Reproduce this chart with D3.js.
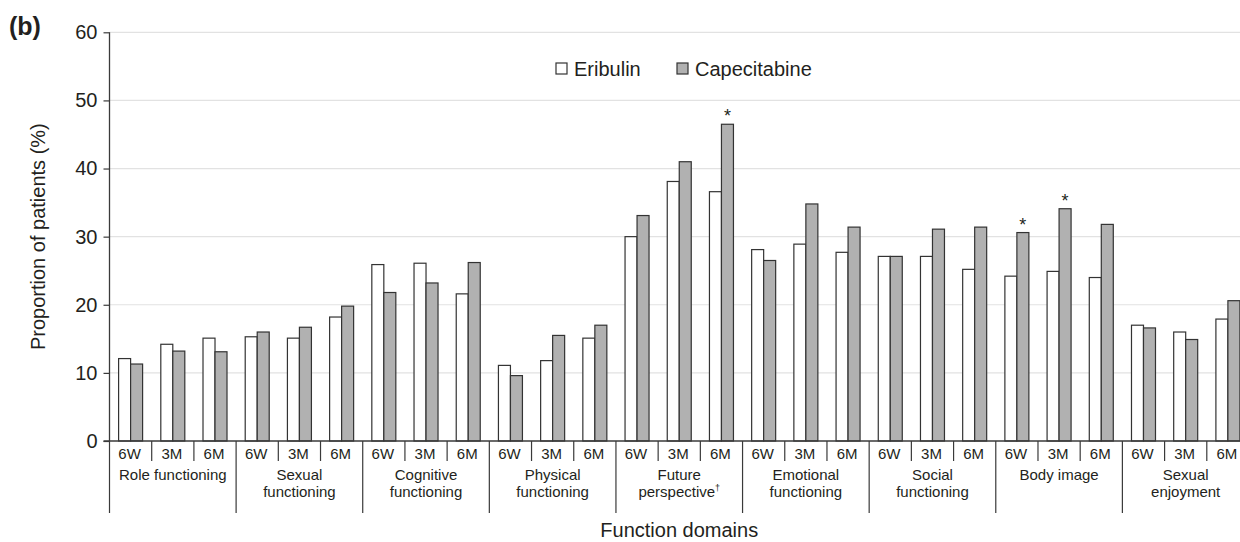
<!DOCTYPE html>
<html>
<head>
<meta charset="utf-8">
<script src="https://cdn.jsdelivr.net/npm/d3@7"></script>
<style>
  html, body { margin: 0; padding: 0; background: #fff; }
  svg { display: block; font-family: "Liberation Sans", Arial, sans-serif; }
</style>
</head>
<body>
<svg id="chart" width="1240" height="542"></svg>
<script>
// Function domains (label lines) and assessment time points
const domains = [
  ["Role functioning"],
  ["Sexual", "functioning"],
  ["Cognitive", "functioning"],
  ["Physical", "functioning"],
  ["Future", "perspective\u2020"],
  ["Emotional", "functioning"],
  ["Social", "functioning"],
  ["Body image"],
  ["Sexual", "enjoyment"]
];
const timepoints = ["6W", "3M", "6M"];
const seriesNames = ["Eribulin", "Capecitabine"];

// Proportion of patients (%), one value per domain x time point
const eribulin = [
  12.1, 14.2, 15.1,
  15.3, 15.1, 18.2,
  25.9, 26.1, 21.6,
  11.1, 11.8, 15.1,
  30.0, 38.1, 36.6,
  28.1, 28.9, 27.7,
  27.1, 27.1, 25.2,
  24.2, 24.9, 24.0,
  17.0, 16.0, 17.9
];
const capecitabine = [
  11.3, 13.2, 13.1,
  16.0, 16.7, 19.8,
  21.8, 23.2, 26.2,
   9.6, 15.5, 17.0,
  33.1, 41.0, 46.5,
  26.5, 34.8, 31.4,
  27.1, 31.1, 31.4,
  30.6, 34.1, 31.8,
  16.6, 14.9, 20.6
];
// capecitabine bars flagged as significant (*)
const significant = [14, 21, 22];
const yTicks = [0, 10, 20, 30, 40, 50, 60];

const svg = d3.select("#chart");
const ink = "#231f20";
const axisColor = "#3a3a3a";

const plotLeft = 109.5, plotRight = 1249, plotTop = 32.3, plotBottom = 441;

const keys = [];
domains.forEach((d, i) => timepoints.forEach(t => keys.push(i + "-" + t)));

const x = d3.scaleBand().domain(keys).range([plotLeft, plotRight]).padding(0);
const y = d3.scaleLinear().domain([0, 60]).range([plotBottom, plotTop]);
const pair = 24;
const xs = d3.scaleBand().domain(seriesNames).range([0, pair]);

// grid lines
svg.append("g")
  .selectAll("line")
  .data(yTicks.filter(v => v > 0))
  .join("line")
  .attr("x1", plotLeft).attr("x2", 1240)
  .attr("y1", d => y(d)).attr("y2", d => y(d))
  .attr("stroke", "#e2e2e2").attr("stroke-width", 1.2);

// y axis
const yAxis = svg.append("g")
  .attr("transform", `translate(${plotLeft},0)`)
  .call(d3.axisLeft(y).tickValues(yTicks).tickSize(6).tickPadding(6));
yAxis.select(".domain").attr("stroke", axisColor).attr("stroke-width", 1.3).attr("d", `M0,${plotTop}V${plotBottom}`);
yAxis.selectAll(".tick line").attr("stroke", axisColor).attr("stroke-width", 1.2);
yAxis.selectAll(".tick text")
  .attr("fill", ink).attr("font-size", 20)
  .attr("font-family", "Liberation Sans, Arial, sans-serif");

// bars
const rows = keys.map((k, i) => ({ key: k, i, values: [eribulin[i], capecitabine[i]] }));
const groups = svg.append("g").selectAll("g")
  .data(rows).join("g")
  .attr("transform", d => `translate(${x(d.key) + x.bandwidth() / 2 - pair / 2},0)`);
groups.selectAll("rect")
  .data(d => d.values.map((v, s) => ({ v, s: seriesNames[s] })))
  .join("rect")
  .attr("x", d => xs(d.s))
  .attr("width", xs.bandwidth())
  .attr("y", d => y(d.v))
  .attr("height", d => y(0) - y(d.v))
  .attr("fill", d => d.s === "Eribulin" ? "#ffffff" : "#b1b1b1")
  .attr("stroke", "#333").attr("stroke-width", 1.2);

// significance markers
svg.append("g").selectAll("text")
  .data(significant)
  .join("text")
  .attr("x", i => x(keys[i]) + x.bandwidth() / 2 - pair / 2 + xs("Capecitabine") + xs.bandwidth() / 2)
  .attr("y", i => y(capecitabine[i]) - 2)
  .attr("text-anchor", "middle")
  .attr("font-size", 18).attr("fill", ink)
  .text("*");

// category axis baseline
svg.append("line")
  .attr("x1", plotLeft - 6).attr("x2", 1240)
  .attr("y1", plotBottom).attr("y2", plotBottom)
  .attr("stroke", axisColor).attr("stroke-width", 1.3);

// separators: short between time points, long between domains
const sep = svg.append("g").attr("stroke", axisColor).attr("stroke-width", 1.2);
keys.forEach((k, i) => {
  const xx = x(k);
  const isGroup = i % 3 === 0;
  sep.append("line")
    .attr("x1", xx).attr("x2", xx)
    .attr("y1", plotBottom).attr("y2", isGroup ? 513 : 461);
});

// time point labels
svg.append("g").selectAll("text")
  .data(keys)
  .join("text")
  .attr("x", k => x(k) + x.bandwidth() / 2 - 1)
  .attr("y", 459)
  .attr("text-anchor", "middle")
  .attr("font-size", 15).attr("fill", ink)
  .text(k => k.split("-")[1]);

// domain labels
const dl = svg.append("g").selectAll("text")
  .data(domains)
  .join("text")
  .attr("x", (d, i) => x(i + "-3M") + x.bandwidth() / 2)
  .attr("y", 480)
  .attr("text-anchor", "middle")
  .attr("font-size", 15).attr("fill", ink);
dl.each(function (lines) {
  const t = d3.select(this);
  lines.forEach((line, j) => {
    const ts = t.append("tspan")
      .attr("x", t.attr("x"))
      .attr("dy", j === 0 ? 0 : 17);
    if (line.endsWith("\u2020")) {
      ts.text(line.slice(0, -1));
      t.append("tspan").attr("font-size", 9).attr("dy", -6).text("\u2020");
    } else {
      ts.text(line);
    }
  });
});

// axis titles
svg.append("text")
  .attr("x", (plotLeft + plotRight) / 2).attr("y", 537)
  .attr("text-anchor", "middle")
  .attr("font-size", 20).attr("fill", ink)
  .text("Function domains");

svg.append("text")
  .attr("transform", `translate(45,${(plotTop + plotBottom) / 2}) rotate(-90)`)
  .attr("text-anchor", "middle")
  .attr("font-size", 20).attr("fill", ink)
  .text("Proportion of patients (%)");

// panel letter
svg.append("text")
  .attr("x", 9).attr("y", 35)
  .attr("font-size", 25).attr("font-weight", "bold").attr("fill", ink)
  .text("(b)");

// legend
const legendItems = [
  { name: "Eribulin", fill: "#ffffff", x: 556 },
  { name: "Capecitabine", fill: "#b1b1b1", x: 677 }
];
const lg = svg.append("g").selectAll("g")
  .data(legendItems).join("g")
  .attr("transform", d => `translate(${d.x},0)`);
lg.append("rect")
  .attr("x", 0).attr("y", 63).attr("width", 11).attr("height", 11)
  .attr("fill", d => d.fill).attr("stroke", "#333").attr("stroke-width", 1.2);
lg.append("text")
  .attr("x", 18).attr("y", 75.5)
  .attr("font-size", 20).attr("fill", ink)
  .text(d => d.name);
</script>
</body>
</html>
